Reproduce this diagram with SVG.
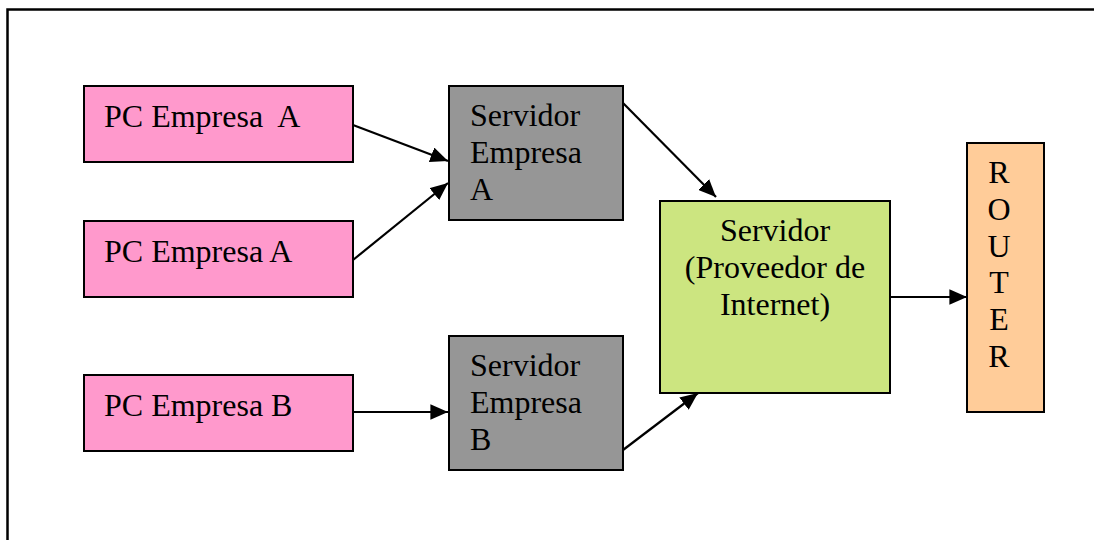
<svg xmlns="http://www.w3.org/2000/svg" width="1094" height="540" viewBox="0 0 1094 540">
<style>
.box{stroke:#000;stroke-width:2}
.pc{fill:#FF99CC}
.srv{fill:#969696}
.isp{fill:#CCE580}
.rt{fill:#FFCC99}
text{font-family:"Liberation Serif","Times New Roman",serif;font-size:32px;fill:#000}
.conn line{stroke:#000;stroke-width:2.2;marker-end:url(#ah)}
</style>
<defs>
<marker id="ah" viewBox="0 0 10 10" refX="10" refY="5" markerWidth="8" markerHeight="7" markerUnits="strokeWidth" orient="auto" preserveAspectRatio="none">
<path d="M0,0 L10,5 L0,10 z" fill="#000"/>
</marker>
</defs>
<rect x="7.5" y="9.5" width="1100" height="540" fill="#fff" stroke="#000" stroke-width="2.5"/>
<g id="pcA1"><rect class="box pc" x="84" y="86" width="269" height="76"/><text x="104" y="127" xml:space="preserve">PC Empresa  A</text></g>
<g id="pcA2"><rect class="box pc" x="84" y="221" width="269" height="76"/><text x="104" y="262">PC Empresa A</text></g>
<g id="pcB"><rect class="box pc" x="84" y="375" width="269" height="76"/><text x="104" y="416">PC Empresa B</text></g>
<g id="srvA"><rect class="box srv" x="449" y="86" width="174" height="134"/><text x="470" y="126">Servidor</text><text x="470" y="163">Empresa</text><text x="470" y="200">A</text></g>
<g id="srvB"><rect class="box srv" x="449" y="336" width="174" height="134"/><text x="470" y="376">Servidor</text><text x="470" y="413">Empresa</text><text x="470" y="450">B</text></g>
<g id="isp"><rect class="box isp" x="660" y="201" width="230" height="192"/><text x="775" y="241" text-anchor="middle">Servidor</text><text x="775" y="278" text-anchor="middle">(Proveedor de</text><text x="775" y="315" text-anchor="middle">Internet)</text></g>
<g id="router"><rect class="box rt" x="967" y="143" width="77" height="269"/>
<text x="999" y="183" text-anchor="middle">R</text><text x="999" y="220" text-anchor="middle">O</text><text x="999" y="257" text-anchor="middle">U</text><text x="999" y="293" text-anchor="middle">T</text><text x="999" y="330" text-anchor="middle">E</text><text x="999" y="367" text-anchor="middle">R</text></g>
<g id="connectors" class="conn">
<line x1="353" y1="125" x2="448" y2="161"/>
<line x1="353" y1="260" x2="448" y2="183"/>
<line x1="353" y1="412" x2="448" y2="412"/>
<line x1="623" y1="103" x2="716" y2="197"/>
<line x1="623" y1="450" x2="698" y2="393"/>
<line x1="891" y1="297" x2="967" y2="297"/>
</g>
</svg>
